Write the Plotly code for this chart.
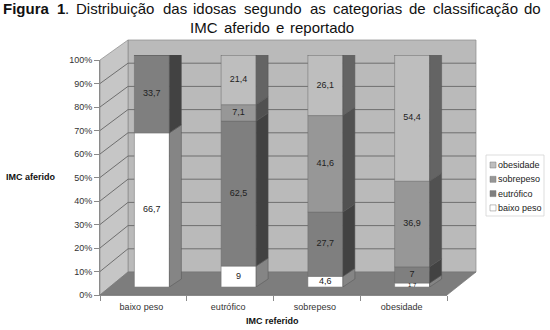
import plotly.graph_objects as go

categories = ["baixo peso", "eutrófico", "sobrepeso", "obesidade"]
tick_values = [0, 10, 20, 30, 40, 50, 60, 70, 80, 90, 100]
baixo_peso = [66.7, 9.0, 4.6, 1.7]
eutrofico = [33.7, 62.5, 27.7, 7.0]
sobrepeso = [0, 7.1, 41.6, 36.9]
obesidade = [0, 21.4, 26.1, 54.4]
series_names = ["baixo peso", "eutrófico", "sobrepeso", "obesidade"]
series_values = [baixo_peso, eutrofico, sobrepeso, obesidade]
front_colors = ["#ffffff", "#7f7f7f", "#979797", "#bebebe"]
side_colors = ["#858585", "#424242", "#515151", "#646464"]
top_colors = ["#bdbdbd", "#5d5d5d", "#6e6e6e", "#8a8a8a"]
title_words = [("Figura", 3, True), ("1", 57, True), (".", 65, False), ("Distribuição", 76, False),
               ("das", 163, False), ("idosas", 193, False), ("segundo", 244, False), ("as", 310, False),
               ("categorias", 333, False), ("de", 409, False), ("classificação", 433, False), ("do", 524, False)]
title_words2 = [("IMC", 190), ("aferido", 224), ("e", 276), ("reportado", 290)]

W, H = 550, 330
def fx(p): return p / W
def fy(p): return 1 - p / H

AX_L, AX_R, AX_B, AX_T = 100, 447, 295, 60
BAR_SHIFT_X, BAR_B, BAR_T = 8.5, 287, 55
BACK_L, BACK_R, BACK_B, BACK_T = 128, 476, 272, 40
DX_PX, DY_PX = 12, 8
BAR_W_PX = 35
cat_px = (AX_R - AX_L) / 4
val_px = (BAR_B - BAR_T) / 100
dx, dy = DX_PX / cat_px, DY_PX / val_px
bw = BAR_W_PX / cat_px

fig = go.Figure()
# invisible trace that gives the category axis its categories
fig.add_trace(go.Scatter(x=categories, y=[0] * 4, xaxis="x", yaxis="y", mode="none",
                         showlegend=False, hoverinfo="skip"))

totals = [sum(s[i] for s in series_values) for i in range(4)]
xs = list(range(4))
base = [0.0] * 4
for k, (name, vals) in enumerate(zip(series_names, series_values)):
    shares = [v / t * 100 for v, t in zip(vals, totals)]
    fig.add_trace(go.Bar(x=xs, y=shares, base=base, width=bw, name=name, xaxis="x2", yaxis="y2",
                         marker=dict(color=front_colors[k], line=dict(color="#6a6a6a", width=0.5)),
                         showlegend=False))
    for i in range(4):
        if vals[i] <= 0:
            continue
        b, t = base[i], base[i] + shares[i]
        r = i + bw / 2
        fig.add_trace(go.Scatter(x=[r, r + dx, r + dx, r, r], y=[b, b + dy, t + dy, t, b],
                                 xaxis="x2", yaxis="y2", mode="lines", fill="toself",
                                 fillcolor=side_colors[k], line=dict(color="#555555", width=0.5),
                                 showlegend=False, hoverinfo="skip"))
        is_top = all(series_values[j][i] == 0 for j in range(k + 1, 4))
        if is_top:
            l = i - bw / 2
            fig.add_trace(go.Scatter(x=[l, r, r + dx, l + dx, l], y=[t, t, t + dy, t + dy, t],
                                     xaxis="x2", yaxis="y2", mode="lines", fill="toself",
                                     fillcolor=top_colors[k], line=dict(color="#555555", width=0.5),
                                     showlegend=False, hoverinfo="skip"))
        size = 9 if shares[i] > 3 else 6
        fig.add_trace(go.Scatter(x=[i], y=[(b + t) / 2], xaxis="x2", yaxis="y2", mode="text",
                                 text=[f"{vals[i]:g}".replace(".", ",")],
                                 textfont=dict(family="Liberation Sans", size=size, color="#222222"),
                                 showlegend=False, hoverinfo="skip"))
    base = [b + s for b, s in zip(base, shares)]

shapes = []
def poly(pts, fill, line="#8a8a8a"):
    path = "M " + " L ".join(f"{fx(x)},{fy(y)}" for x, y in pts) + " Z"
    shapes.append(dict(type="path", path=path, xref="paper", yref="paper", fillcolor=fill,
                       line=dict(color=line, width=0.7), layer="below"))
def seg(x0, y0, x1, y1, color="#6f6f6f", width=1):
    shapes.append(dict(type="line", x0=fx(x0), y0=fy(y0), x1=fx(x1), y1=fy(y1), xref="paper", yref="paper",
                       line=dict(color=color, width=width), layer="below"))

poly([(BACK_L, BACK_T), (BACK_R, BACK_T), (BACK_R, BACK_B), (BACK_L, BACK_B)], "#bababa")
poly([(AX_L, AX_T), (BACK_L, BACK_T), (BACK_L, BACK_B), (AX_L, AX_B)], "#c6c6c6")
poly([(AX_L, AX_B), (BACK_L, BACK_B), (BACK_R, BACK_B), (AX_R, AX_B)], "#7d7d7d", "#777777")
for v in tick_values[1:-1]:
    yf = AX_B + (AX_T - AX_B) * v / 100
    yb = BACK_B + (BACK_T - BACK_B) * v / 100
    seg(AX_L, yf, BACK_L, yb)
    seg(BACK_L, yb, BACK_R, yb)

annotations = []
def text(s, x, y, size, bold=False, anchor="left", color="#222222"):
    annotations.append(dict(text=f"<b>{s}</b>" if bold else s, x=fx(x), y=fy(y), xref="paper", yref="paper",
                            xanchor=anchor, yanchor="middle", showarrow=False, borderpad=0, xshift=-1 if anchor == "left" else 0,
                            font=dict(family="Liberation Sans", size=size, color=color)))
for w, x, b in title_words:
    text(w, x, 9, 15, b, color="#111111")
for w, x in title_words2:
    text(w, x, 28, 15, False, color="#111111")
text("IMC aferido", 6, 177, 9, True, color="#111111")
text("IMC referido", 272, 321, 9, True, anchor="center", color="#111111")

# legend
shapes.append(dict(type="rect", x0=fx(486), x1=fx(544), y0=fy(155), y1=fy(216), xref="paper", yref="paper",
                   fillcolor="#ffffff", line=dict(color="#cfcfcf", width=0.7)))
for j, k in enumerate(reversed(range(4))):
    yc = 165 + j * 14.3
    shapes.append(dict(type="rect", x0=fx(490), x1=fx(496), y0=fy(yc - 3), y1=fy(yc + 3), xref="paper", yref="paper",
                       fillcolor=front_colors[k], line=dict(color="#7a7a7a", width=0.5)))
    text(series_names[k], 498, yc, 9)

fig.update_layout(
    width=W, height=H, margin=dict(l=0, r=0, t=0, b=0, pad=0), autosize=False,
    paper_bgcolor="#ffffff", plot_bgcolor="rgba(0,0,0,0)", barmode="overlay", showlegend=False,
    shapes=shapes, annotations=annotations,
    font=dict(family="Liberation Sans", size=9, color="#333333"),
    xaxis=dict(domain=[fx(AX_L), fx(AX_R)], type="category", categoryorder="array", categoryarray=categories,
               range=[-0.5, 3.5], tickson="boundaries", ticks="outside", ticklen=5, tickcolor="#8a8a8a",
               showgrid=False, showline=True, linecolor="#8a8a8a", anchor="y", zeroline=False, automargin=False,
               ticklabelstandoff=3, ticklabelshift=-2,
               tickfont=dict(size=9, color="#333333")),
    yaxis=dict(domain=[fy(AX_B), fy(AX_T)], range=[0, 100], tickvals=tick_values,
               ticktext=[f"{v}%" for v in tick_values], ticks="outside", ticklen=5, tickcolor="#8a8a8a",
               showgrid=False, showline=True, linecolor="#8a8a8a", zeroline=False, anchor="x", automargin=False,
               tickfont=dict(size=9, color="#333333")),
    xaxis2=dict(domain=[fx(AX_L + BAR_SHIFT_X), fx(AX_R + BAR_SHIFT_X)], range=[-0.5, 3.5], visible=False,
                anchor="y2", automargin=False),
    yaxis2=dict(domain=[fy(BAR_B), fy(BAR_T)], range=[0, 100], visible=False, anchor="x2", automargin=False),
)
fig.write_html("out.html", config={"displayModeBar": False},
               post_script="document.body.style.margin='0';")
